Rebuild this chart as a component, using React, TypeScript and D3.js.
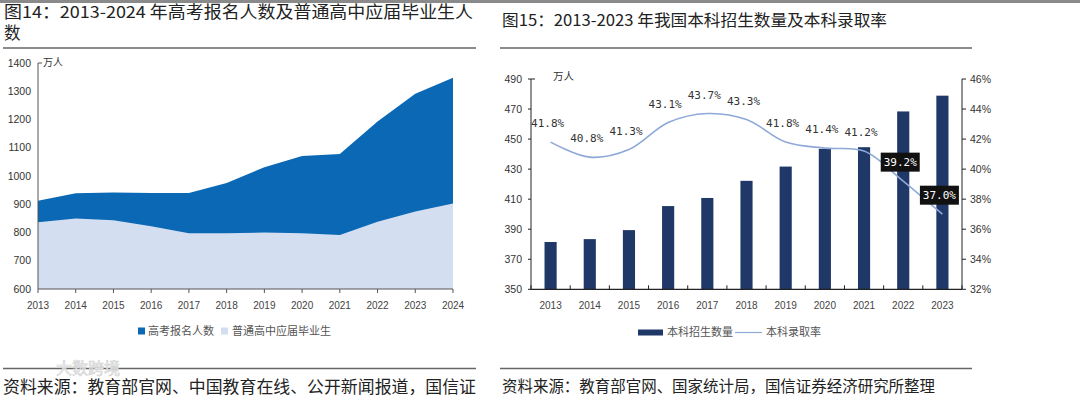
import React from 'react';
import * as d3 from 'd3';

const W = 1080;
const H = 396;

// 图14 data (万人)
const years14 = ['2013', '2014', '2015', '2016', '2017', '2018', '2019', '2020', '2021', '2022', '2023', '2024'];
const gaokao = [912, 939, 942, 940, 940, 975, 1031, 1071, 1078, 1193, 1291, 1348];
const graduates = [836, 850, 843, 822, 797, 797, 800, 797, 791, 838, 874, 903];
const yTicks14 = [600, 700, 800, 900, 1000, 1100, 1200, 1300, 1400];

// 图15 data
const years15 = ['2013', '2014', '2015', '2016', '2017', '2018', '2019', '2020', '2021', '2022', '2023'];
const enroll = [381.5, 383.4, 389.4, 405.4, 410.8, 422.2, 431.7, 443.5, 444.6, 468.4, 478.9];
const rate = [41.8, 40.8, 41.3, 43.1, 43.7, 43.3, 41.8, 41.4, 41.2, 39.2, 37.0];
const boxedYears = ['2022', '2023'];
const yTicksL = [350, 370, 390, 410, 430, 450, 470, 490];
const yTicksR = [32, 34, 36, 38, 40, 42, 44, 46];

const CJK = '"Noto Sans CJK SC", "Noto Sans", sans-serif';
const NUM = '"Liberation Sans", Arial, sans-serif';

const darkBlue = '#0a68b5';
const lightBlue = '#d3def1';
const navy = '#1f3868';
const rateColor = '#8ea9d8';

const LeftChart = () => {
  const x = d3.scalePoint().domain(years14).range([38, 453]);
  const y = d3.scaleLinear().domain([600, 1400]).range([289, 63]);
  const area = (vals: number[]) =>
    d3.area<number>()
      .x((d, i) => x(years14[i])!)
      .y0(y(600))
      .y1(d => y(d))(vals)!;

  return (
    <g>
      <path d={area(gaokao)} fill={darkBlue} />
      <path d={area(graduates)} fill={lightBlue} />
      {/* y axis */}
      <line x1={38} x2={38} y1={y(1400)} y2={y(600)} stroke="#555" />
      <line x1={38} x2={42} y1={y(1400)} y2={y(1400)} stroke="#555" />
      {yTicks14.map(t => (
        <text key={t} x={31} y={y(t) + 3.5} textAnchor="end" fontSize={10.5} fontFamily={NUM} fill="#333">{t}</text>
      ))}
      <text x={43} y={66} fontSize={10} fontFamily={CJK} fill="#333">万人</text>
      {/* x axis */}
      <line x1={38} x2={453} y1={y(600)} y2={y(600)} stroke="#555" />
      {years14.map(yr => (
        <g key={yr}>
          <line x1={x(yr)} x2={x(yr)} y1={y(600)} y2={y(600) + 4} stroke="#555" />
          <text x={x(yr)} y={309} textAnchor="middle" fontSize={10} fontFamily={NUM} fill="#444">{yr}</text>
        </g>
      ))}
      {/* legend */}
      <rect x={138} y={327.5} width={7} height={7} fill={darkBlue} />
      <text x={148} y={335} fontSize={11} fontFamily={CJK} fill="#555">高考报名人数</text>
      <rect x={221} y={327.5} width={7} height={7} fill={lightBlue} />
      <text x={232} y={335} fontSize={11} fontFamily={CJK} fill="#555">普通高中应届毕业生</text>
    </g>
  );
};

const RightChart = () => {
  const x = d3.scaleBand().domain(years15).range([531, 962]).paddingInner(0.69).paddingOuter(0.345);
  const yL = d3.scaleLinear().domain([350, 490]).range([289.3, 79]);
  const yR = d3.scaleLinear().domain([32, 46]).range([289.3, 79]);
  const cx = (yr: string) => x(yr)! + x.bandwidth() / 2;
  const line = d3.line<number>()
    .x((d, i) => cx(years15[i]))
    .y(d => yR(d))
    .curve(d3.curveCatmullRom.alpha(0.5));
  const step = x.step();
  const bounds = years15.map(yr => cx(yr) - step / 2).concat([cx(years15[years15.length - 1]) + step / 2]);

  return (
    <g>
      {years15.map((yr, i) => (
        <rect key={yr} x={x(yr)} y={yL(enroll[i])} width={x.bandwidth()} height={yL(350) - yL(enroll[i])} fill={navy} />
      ))}
      <path d={line(rate)!} fill="none" stroke={rateColor} strokeWidth={1.6} />
      {/* left axis */}
      <line x1={531} x2={531} y1={yL(490)} y2={yL(350)} stroke="#222" />
      <line x1={531} x2={535} y1={yL(490)} y2={yL(490)} stroke="#222" />
      {yTicksL.map(t => (
        <g key={t}>
          <line x1={528} x2={531} y1={yL(t)} y2={yL(t)} stroke="#222" />
          <text x={522} y={yL(t) + 3.5} textAnchor="end" fontSize={10.5} fontFamily={NUM} fill="#333">{t}</text>
        </g>
      ))}
      <text x={553} y={80} fontSize={10.5} fontFamily={CJK} fill="#333">万人</text>
      {/* right axis */}
      <line x1={962} x2={962} y1={yR(46)} y2={yR(32)} stroke="#222" />
      {yTicksR.map(t => (
        <g key={t}>
          <line x1={962} x2={966} y1={yR(t)} y2={yR(t)} stroke="#222" />
          <text x={970} y={yR(t) + 3.5} fontSize={10.5} fontFamily={NUM} fill="#333">{t}%</text>
        </g>
      ))}
      {/* x axis */}
      <line x1={531} x2={962} y1={yL(350)} y2={yL(350)} stroke="#222" strokeWidth={1.2} />
      {bounds.map((b, i) => (
        <line key={i} x1={b} x2={b} y1={yL(350) - 4} y2={yL(350)} stroke="#222" />
      ))}
      {years15.map(yr => (
        <text key={yr} x={cx(yr)} y={309} textAnchor="middle" fontSize={10} fontFamily={NUM} fill="#444">{yr}</text>
      ))}
      {/* rate labels */}
      {years15.map((yr, i) => {
        const lx = cx(yr) - 3;
        const ly = yR(rate[i]) - 19;
        const label = `${rate[i].toFixed(1)}%`;
        const boxed = boxedYears.includes(yr);
        return (
          <g key={yr}>
            {boxed && <rect x={lx - 19.5} y={ly - 9.5} width={39} height={19} fill="#111" />}
            <text x={lx} y={ly + 4} textAnchor="middle" fontSize={11} fontFamily='"DejaVu Sans Mono", monospace'
              fill={boxed ? '#fff' : '#333'}>{label}</text>
          </g>
        );
      })}
      {/* legend */}
      <rect x={638} y={329.5} width={25} height={6} fill={navy} />
      <text x={667} y={336} fontSize={11} fontFamily={CJK} fill="#555">本科招生数量</text>
      <line x1={735} x2={762} y1={332.5} y2={332.5} stroke={rateColor} strokeWidth={1.2} />
      <text x={766} y={336} fontSize={11} fontFamily={CJK} fill="#555">本科录取率</text>
    </g>
  );
};

const App = () => (
  <svg width={W} height={H} style={{ position: 'absolute', left: 0, top: 0, background: '#fff' }}>
    <rect x={0} y={0} width={W} height={H} fill="#fff" />
    <rect x={0} y={0} width={W} height={3} fill="#8a8a8a" />
    {/* titles */}
    <text x={4} y={18} fontSize={16.5} fontFamily={CJK} fill="#222" textLength={469} lengthAdjust="spacingAndGlyphs">
      图14：2013-2024 年高考报名人数及普通高中应届毕业生人
    </text>
    <text x={4} y={39} fontSize={16.5} fontFamily={CJK} fill="#222">数</text>
    <line x1={3} x2={476} y1={48} y2={48} stroke="#666" strokeWidth={1.5} />
    <text x={502} y={26} fontSize={16} fontFamily={CJK} fill="#222" textLength={385} lengthAdjust="spacingAndGlyphs">
      图15：2013-2023 年我国本科招生数量及本科录取率
    </text>
    <line x1={500} x2={972} y1={48} y2={48} stroke="#666" strokeWidth={1.5} />

    <LeftChart />
    <RightChart />

    {/* footers */}
    <line x1={3} x2={476} y1={368.5} y2={368.5} stroke="#666" strokeWidth={1.5} />
    <text x={56} y={374} fontSize={16} fontFamily={CJK} fill="#f4f4f4" stroke="#d0d0d0" strokeWidth={0.6}>大数跨境</text>
    <text x={3} y={393} fontSize={16.5} fontFamily={CJK} fill="#222" textLength={473} lengthAdjust="spacingAndGlyphs">
      资料来源：教育部官网、中国教育在线、公开新闻报道，国信证
    </text>
    <line x1={500} x2={972} y1={368.5} y2={368.5} stroke="#666" strokeWidth={1.5} />
    <text x={502} y={392} fontSize={16} fontFamily={CJK} fill="#222" textLength={433} lengthAdjust="spacingAndGlyphs">
      资料来源：教育部官网、国家统计局，国信证券经济研究所整理
    </text>
  </svg>
);

export default App;
